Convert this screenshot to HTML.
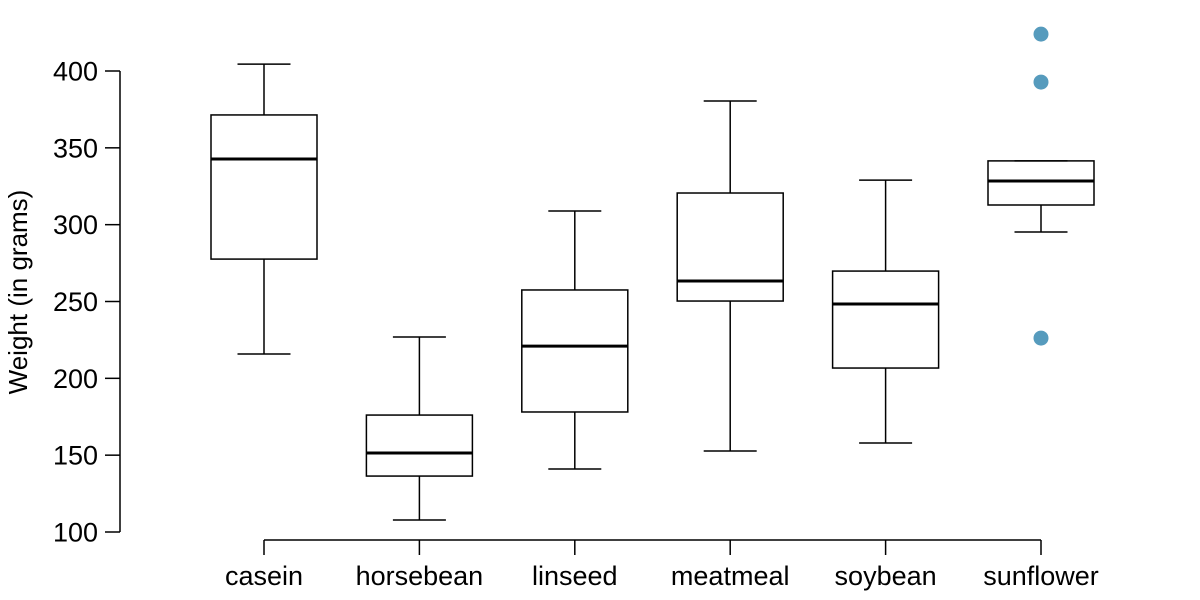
<!DOCTYPE html>
<html><head><meta charset="utf-8"><style>
body{margin:0;background:#fff}
svg{display:block;font-family:"Liberation Sans",Arial,sans-serif}
</style></head><body>
<svg id="chart" width="1200" height="600"></svg>
<script>
const categories=["casein","horsebean","linseed","meatmeal","soybean","sunflower"];
const lowerWhisker=[215.8,107.8,141,152.7,157.9,295.2];
const q1=[277.6,136.4,178.1,250.3,206.7,312.8];
const medians=[342.7,151.4,221,263.3,248.4,328.4];
const q3=[371.4,176.1,257.5,320.6,269.8,341.5];
const upperWhisker=[404.5,226.9,308.9,380.5,329,341.5];
const outlierGroup=[5,5,5];
const outlierValues=[424,392.8,226.2];
const yTicks=[100,150,200,250,300,350,400];

const svg=document.getElementById('chart');
const NS="http://www.w3.org/2000/svg";
const y=v=>532-(v-100)*461/300;
const x=i=>264+i*155.4;
const bw=106;
function mk(tag,attrs,parent){const e=document.createElementNS(NS,tag);for(const k in attrs)e.setAttribute(k,attrs[k]);(parent||svg).appendChild(e);return e;}

const ya=mk('g',{});


mk('line',{x1:120,x2:120,y1:y(100),y2:y(400),stroke:'#000','stroke-width':1.5},ya);
yTicks.forEach(t=>{
  mk('line',{x1:105,x2:120,y1:y(t),y2:y(t),stroke:'#000','stroke-width':1.5},ya);
  const tx=mk('text',{x:98,y:y(t)+9.5,'text-anchor':'end','font-size':27},ya);
  tx.textContent=t;
  
  
});
const yt=mk('text',{transform:'translate(27,292) rotate(-90)','text-anchor':'middle','font-size':26});
yt.textContent='Weight (in grams)';



const xa=mk('g',{});


mk('line',{x1:x(0),x2:x(categories.length-1),y1:540,y2:540,stroke:'#000','stroke-width':1.5},xa);
categories.forEach((c,i)=>{
  mk('line',{x1:x(i),x2:x(i),y1:540,y2:555,stroke:'#000','stroke-width':1.5},xa);
  const tx=mk('text',{x:x(i),y:585,'text-anchor':'middle','font-size':27},xa);
  tx.textContent=c;
  
  
});

categories.forEach((c,i)=>{
  const g=mk('g',{});
  
  
  const cx=x(i),hw=bw/2,ww=bw/4;
  mk('line',{x1:cx,x2:cx,y1:y(upperWhisker[i]),y2:y(q3[i]),stroke:'#000','stroke-width':1.5},g);
  mk('line',{x1:cx,x2:cx,y1:y(q1[i]),y2:y(lowerWhisker[i]),stroke:'#000','stroke-width':1.5},g);
  mk('line',{x1:cx-ww,x2:cx+ww,y1:y(upperWhisker[i]),y2:y(upperWhisker[i]),stroke:'#000','stroke-width':1.5},g);
  mk('line',{x1:cx-ww,x2:cx+ww,y1:y(lowerWhisker[i]),y2:y(lowerWhisker[i]),stroke:'#000','stroke-width':1.5},g);
  mk('rect',{x:cx-hw,y:y(q3[i]),width:bw,height:y(q1[i])-y(q3[i]),fill:'none',stroke:'#000','stroke-width':1.5},g);
  mk('line',{x1:cx-hw,x2:cx+hw,y1:y(medians[i]),y2:y(medians[i]),stroke:'#000','stroke-width':3},g);
});

outlierValues.forEach((v,k)=>{
  const c=mk('circle',{cx:x(outlierGroup[k]),cy:y(v),r:7.5,fill:'#569BBD'});
  
  
});
</script>
</body></html>
